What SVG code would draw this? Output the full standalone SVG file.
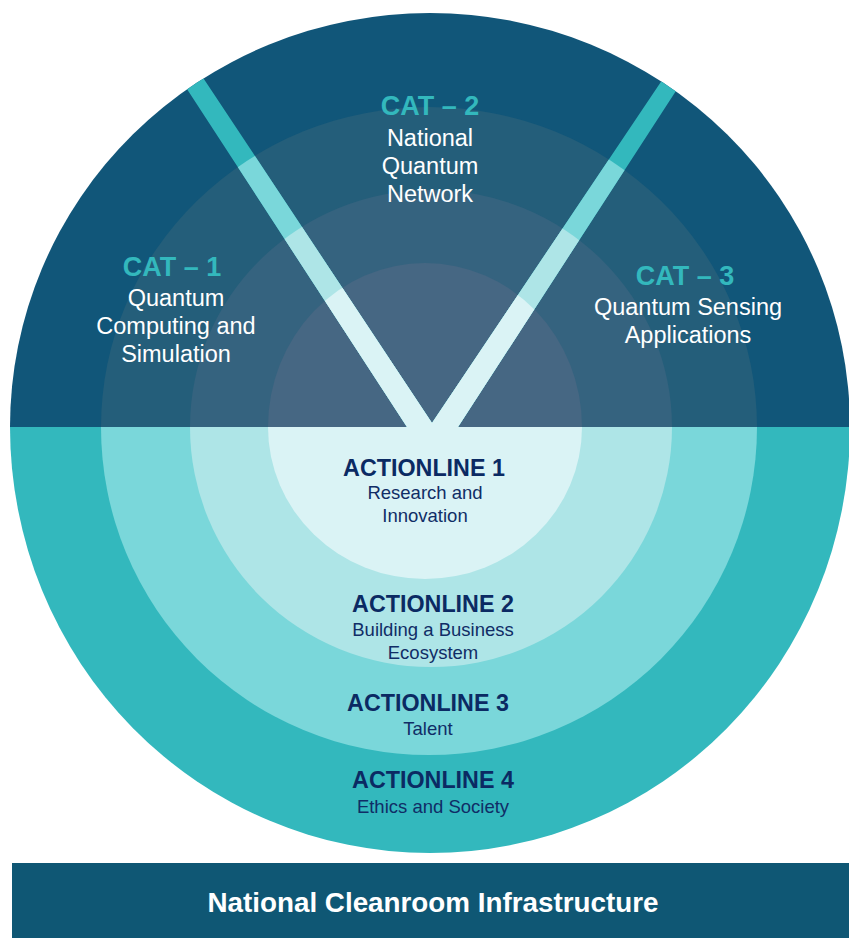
<svg xmlns="http://www.w3.org/2000/svg" width="849" height="938" viewBox="0 0 849 938">
<style>
.cat{font-family:"Liberation Sans",Arial,sans-serif;font-weight:bold;font-size:27px;fill:#33B8BD;text-anchor:middle}
.catsub{font-family:"Liberation Sans",Arial,sans-serif;font-size:23.5px;fill:#FFFFFF;text-anchor:middle}
.al{font-family:"Liberation Sans",Arial,sans-serif;font-weight:bold;font-size:23.3px;fill:#0B2A63;text-anchor:middle}
.alsub{font-family:"Liberation Sans",Arial,sans-serif;font-size:18.5px;fill:#102D66;text-anchor:middle}
.bar{font-family:"Liberation Sans",Arial,sans-serif;font-weight:bold;font-size:27.8px;fill:#FFFFFF;text-anchor:middle}
</style>
<defs>
<clipPath id="topHalf"><rect x="0" y="0" width="849" height="427"/></clipPath>
<clipPath id="bottomHalf"><rect x="0" y="427" width="849" height="511"/></clipPath>
<clipPath id="vClip"><polygon points="407,427 155,40 178,40 432,423 689,40 709,40 458,427"/></clipPath>
</defs>
<rect width="849" height="938" fill="#FFFFFF"/>

<g id="actionline-rings" clip-path="url(#bottomHalf)">
<ellipse cx="430" cy="427" rx="420" ry="426" fill="#33B8BD"/>
<ellipse cx="429" cy="427" rx="328" ry="328" fill="#7AD7DA"/>
<ellipse cx="431" cy="427" rx="241" ry="240" fill="#AEE5E7"/>
<ellipse cx="425" cy="427" rx="157" ry="152" fill="#DAF3F5"/>
</g>

<g id="cat-rings" clip-path="url(#topHalf)">
<ellipse cx="430" cy="427" rx="420" ry="414" fill="#115679"/>
<ellipse cx="429" cy="427" rx="328" ry="320" fill="#245E7A"/>
<ellipse cx="431" cy="427" rx="241" ry="237" fill="#35637F"/>
<ellipse cx="425" cy="427" rx="157" ry="164" fill="#466783"/>
</g>

<g id="v-dividers" clip-path="url(#vClip)">
<ellipse cx="430" cy="427" rx="420" ry="414" fill="#33B8BD"/>
<ellipse cx="429" cy="427" rx="328" ry="320" fill="#7AD7DA"/>
<ellipse cx="431" cy="427" rx="241" ry="237" fill="#AEE5E7"/>
<ellipse cx="425" cy="427" rx="157" ry="164" fill="#DAF3F5"/>
</g>

<g id="cat1">
<text class="cat" x="172" y="276">CAT – 1</text>
<text class="catsub" x="176" y="306">Quantum</text>
<text class="catsub" x="176" y="334">Computing and</text>
<text class="catsub" x="176" y="362">Simulation</text>
</g>

<g id="cat2">
<text class="cat" x="430" y="115">CAT – 2</text>
<text class="catsub" x="430" y="146">National</text>
<text class="catsub" x="430" y="174">Quantum</text>
<text class="catsub" x="430" y="202">Network</text>
</g>

<g id="cat3">
<text class="cat" x="685" y="285">CAT – 3</text>
<text class="catsub" x="688" y="315">Quantum Sensing</text>
<text class="catsub" x="688" y="343">Applications</text>
</g>

<g id="actionline1">
<text class="al" x="424" y="476">ACTIONLINE 1</text>
<text class="alsub" x="425" y="499">Research and</text>
<text class="alsub" x="425" y="522">Innovation</text>
</g>

<g id="actionline2">
<text class="al" x="433" y="612">ACTIONLINE 2</text>
<text class="alsub" x="433" y="636">Building a Business</text>
<text class="alsub" x="433" y="659">Ecosystem</text>
</g>

<g id="actionline3">
<text class="al" x="428" y="711">ACTIONLINE 3</text>
<text class="alsub" x="428" y="735">Talent</text>
</g>

<g id="actionline4">
<text class="al" x="433" y="788">ACTIONLINE 4</text>
<text class="alsub" x="433" y="813">Ethics and Society</text>
</g>

<g id="cleanroom">
<rect x="12" y="863" width="837" height="75" fill="#0F5774"/>
<text class="bar" x="433" y="912">National Cleanroom Infrastructure</text>
</g>
</svg>
